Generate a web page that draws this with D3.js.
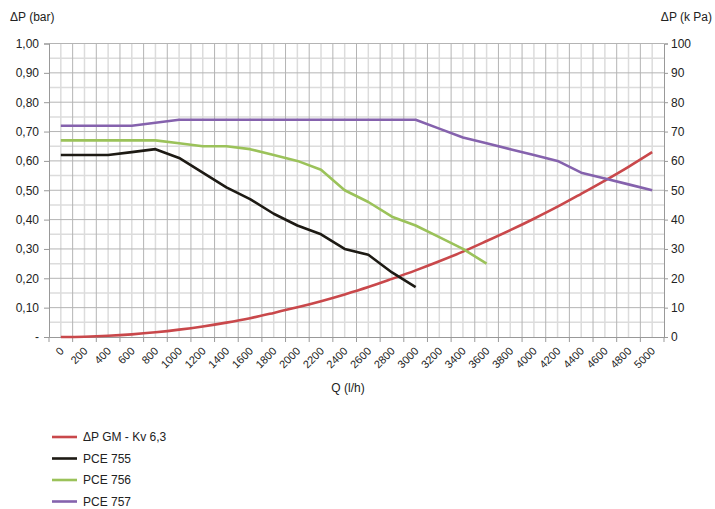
<!DOCTYPE html>
<html>
<head>
<meta charset="utf-8">
<script src="https://cdn.jsdelivr.net/npm/d3@7"></script>
<style>
  body { margin: 0; background: #fff; }
  svg { font-family: "Liberation Sans", Arial, sans-serif; }
</style>
</head>
<body>
<div id="chart"></div>
<script>
// flow rates (l/h), one category each
var flows = [0, 200, 400, 600, 800, 1000, 1200, 1400, 1600, 1800, 2000, 2200, 2400,
             2600, 2800, 3000, 3200, 3400, 3600, 3800, 4000, 4200, 4400, 4600, 4800, 5000];

// pressure drop (bar)
var gmKv63 = [0.000, 0.001, 0.004, 0.009, 0.016, 0.025, 0.036, 0.049, 0.064, 0.082, 0.101,
              0.122, 0.145, 0.170, 0.198, 0.227, 0.258, 0.291, 0.327, 0.364, 0.403, 0.444,
              0.488, 0.533, 0.580, 0.630];
var pce755 = [0.62, 0.62, 0.62, 0.63, 0.64, 0.61, 0.56, 0.51, 0.47, 0.42, 0.38, 0.35, 0.30,
              0.28, 0.22, 0.17];
var pce756 = [0.67, 0.67, 0.67, 0.67, 0.67, 0.66, 0.65, 0.65, 0.64, 0.62, 0.60, 0.57, 0.50,
              0.46, 0.41, 0.38, 0.34, 0.30, 0.25];
var pce757 = [0.72, 0.72, 0.72, 0.72, 0.73, 0.74, 0.74, 0.74, 0.74, 0.74, 0.74, 0.74, 0.74,
              0.74, 0.74, 0.74, 0.71, 0.68, 0.66, 0.64, 0.62, 0.60, 0.56, 0.54, 0.52, 0.50];

var barTicks = [0, 0.1, 0.2, 0.3, 0.4, 0.5, 0.6, 0.7, 0.8, 0.9, 1.0];
var kpaTicks = [0, 10, 20, 30, 40, 50, 60, 70, 80, 90, 100];

var seriesNames = ["\u0394P GM - Kv 6,3", "PCE 755", "PCE 756", "PCE 757"];
var seriesColors = ["#c9484b", "#1d1a14", "#9bc25a", "#8562ad"];

function drawChart() {
  var width = 715, height = 509;
  var left = 49, right = 664, top = 43.5, bottom = 337;

  var svg = d3.select("#chart").append("svg")
      .attr("width", width)
      .attr("height", height);

  var x = d3.scaleBand()
      .domain(flows)
      .range([left, right])
      .padding(0);
  var bw = x.bandwidth();

  var y = d3.scaleLinear().domain([0, 1]).range([bottom, top]);
  var y2 = d3.scaleLinear().domain([0, 100]).range([bottom, top]);

  // grid: minor lines first, then major
  var grid = svg.append("g").attr("class", "grid");
  var halfSteps = d3.range(0, 1.0001, 0.05);
  grid.selectAll(".hminor")
      .data(halfSteps.filter(function(d, i) { return i % 2 == 1; }))
      .enter().append("line")
      .attr("x1", left).attr("x2", right)
      .attr("y1", function(d) { return y(d); })
      .attr("y2", function(d) { return y(d); })
      .style("stroke", "#dcdcdc").style("stroke-width", 1.5);
  grid.selectAll(".vminor")
      .data(flows)
      .enter().append("line")
      .attr("x1", function(d) { return x(d) + bw / 2; })
      .attr("x2", function(d) { return x(d) + bw / 2; })
      .attr("y1", top).attr("y2", bottom)
      .style("stroke", "#dcdcdc").style("stroke-width", 1.5);
  grid.selectAll(".hmajor")
      .data(barTicks.slice(1))
      .enter().append("line")
      .attr("x1", left).attr("x2", right)
      .attr("y1", function(d) { return y(d); })
      .attr("y2", function(d) { return y(d); })
      .style("stroke", "#b4b4b4").style("stroke-width", 1);
  grid.selectAll(".vmajor")
      .data(flows.slice(1))
      .enter().append("line")
      .attr("x1", function(d) { return x(d); })
      .attr("x2", function(d) { return x(d); })
      .attr("y1", top).attr("y2", bottom)
      .style("stroke", "#b4b4b4").style("stroke-width", 1);

  // left axis
  var yAxis = d3.axisLeft(y)
      .tickValues(barTicks)
      .tickSizeOuter(0)
      .tickSize(5)
      .tickPadding(5)
      .tickFormat(function(d) { return d == 0 ? "-" : d3.format(".2f")(d).replace(".", ","); });
  var gy = svg.append("g")
      .attr("transform", "translate(" + left + ",0)")
      .call(yAxis);

  // right axis
  var y2Axis = d3.axisRight(y2)
      .tickValues(kpaTicks)
      .tickSizeOuter(0)
      .tickSize(4)
      .tickPadding(3);
  var gy2 = svg.append("g")
      .attr("transform", "translate(" + right + ",0)")
      .call(y2Axis);

  // bottom axis, labels at category centres, tick marks at category edges
  var xAxis = d3.axisBottom(x).tickSize(0).tickSizeOuter(0).tickPadding(0);
  var gx = svg.append("g")
      .attr("transform", "translate(0," + bottom + ")")
      .call(xAxis);
  gx.selectAll(".tick text")
      .attr("transform", "translate(1,12) rotate(-45)")
      .attr("dy", "0.35em")
      .attr("y", 0)
      .style("text-anchor", "end");
  gx.selectAll(".edge")
      .data(flows.concat(["end"]))
      .enter().append("line")
      .attr("x1", function(d) { return d == "end" ? right : x(d); })
      .attr("x2", function(d) { return d == "end" ? right : x(d); })
      .attr("y1", 0).attr("y2", 5)
      .style("stroke", "#999");

  [gy, gy2, gx].forEach(function(g) {
    g.selectAll("path.domain").style("stroke", "#999");
    g.selectAll(".tick line").style("stroke", "#999");
    g.selectAll("text")
      .style("font-family", "'Liberation Sans', Arial, sans-serif")
      .style("font-size", "12px")
      .style("fill", "#222");
  });
  gx.selectAll("text").style("font-size", "11px");

  // titles
  svg.append("text")
      .attr("x", 10).attr("y", 21)
      .style("font-size", "12px").style("fill", "#222")
      .text("\u0394P (bar)");
  svg.append("text")
      .attr("x", 712).attr("y", 21)
      .style("text-anchor", "end")
      .style("font-size", "12px").style("fill", "#222")
      .text("\u0394P (k Pa)");
  svg.append("text")
      .attr("x", 348).attr("y", 392)
      .style("text-anchor", "middle")
      .style("font-size", "12px").style("fill", "#222")
      .text("Q (l/h)");

  // series
  var allSeries = [gmKv63, pce755, pce756, pce757];
  allSeries.forEach(function(vals, i) {
    var line = d3.line()
        .x(function(d, j) { return x(flows[j]) + bw / 2; })
        .y(function(d) { return y(d); })
        .curve(i == 0 ? d3.curveMonotoneX : d3.curveLinear);
    svg.append("path")
        .datum(vals)
        .attr("d", line)
        .style("fill", "none")
        .style("stroke", seriesColors[i])
        .style("stroke-width", 2.6)
        .style("stroke-linejoin", "round");
  });

  // legend
  var legend = svg.append("g").attr("class", "legend");
  var legendY = [437, 458.5, 480, 501.5];
  seriesNames.forEach(function(name, i) {
    legend.append("line")
        .attr("x1", 52).attr("x2", 77)
        .attr("y1", legendY[i]).attr("y2", legendY[i])
        .style("stroke", seriesColors[i])
        .style("stroke-width", 2.6);
    legend.append("text")
        .attr("x", 83).attr("y", legendY[i])
        .attr("dy", "0.35em")
        .style("font-size", "12px").style("fill", "#222")
        .text(name);
  });
}

drawChart();
</script>
</body>
</html>
